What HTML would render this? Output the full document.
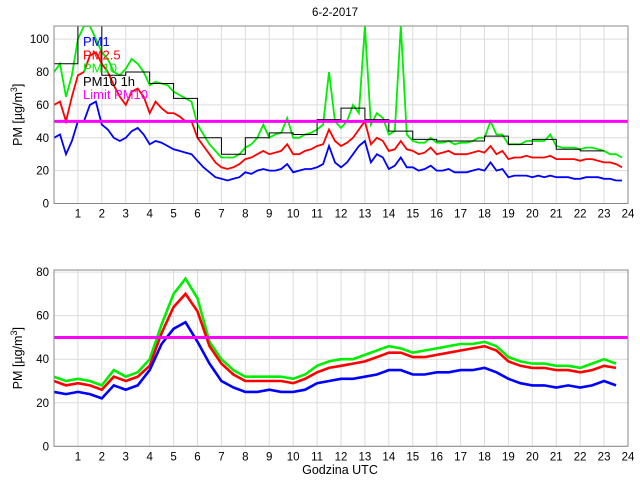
<!DOCTYPE html>
<html><head><meta charset="utf-8"><style>
body{margin:0;background:#fff}
svg{display:block;font-family:"Liberation Sans",sans-serif}
</style></head><body>
<svg id="c" width="640" height="480"></svg>
<script>
const topPM1=[40,42,30,38,50,50,60,62,48,45,40,38,40,44,46,42,36,38,37,35,33,32,31,30,26,22,19,16,15,14,15,16,19,18,20,21,20,20,21,24,19,20,21,21,22,24,35,25,22,25,30,35,38,25,30,28,21,23,28,22,22,20,21,23,20,20,21,19,19,19,20,21,20,25,20,21,16,17,17,17,16,17,16,17,16,16,16,15,15,16,16,16,15,15,14,14];
const topPM25=[60,62,50,65,78,80,90,92,85,80,72,65,60,68,70,65,55,62,58,55,55,53,50,50,40,35,30,25,22,21,22,24,27,28,30,32,30,31,32,36,30,30,32,33,35,36,45,38,35,37,40,45,50,36,40,38,32,33,38,33,32,30,31,34,30,31,32,30,30,30,31,32,31,35,30,32,27,28,28,29,28,28,28,29,27,27,27,27,26,27,27,26,25,25,24,22];
const topPM10=[80,85,65,78,100,108,108,100,92,88,80,78,82,88,85,80,72,74,73,72,68,66,64,62,48,42,36,32,28,28,28,30,34,36,40,48,40,42,43,52,40,40,42,43,45,48,80,50,46,50,60,55,108,48,55,52,42,44,108,42,38,37,37,40,37,37,38,36,37,37,38,40,40,50,42,42,36,36,36,38,38,38,38,42,35,34,34,34,33,34,34,33,32,30,30,28];
const hourly10=[85,120,78,80,73,64,40,30,40,43,42,51,58,51,44,39,38,38,41,36,39,33,32];
const botPM1=[25,24,25,24,22,28,26,28,35,47,54,57,48,38,30,27,25,25,26,25,25,26,29,30,31,31,32,33,35,35,33,33,34,34,35,35,36,34,31,29,28,28,27,28,27,28,30,28];
const botPM25=[30,28,29,28,26,32,30,32,37,52,64,70,62,46,38,33,30,30,30,30,29,31,34,36,37,38,39,41,43,43,41,41,42,43,44,45,46,44,39,37,36,36,35,35,34,35,37,36];
const botPM10=[32,30,31,30,28,35,32,34,40,56,70,77,68,48,40,35,32,32,32,32,31,33,37,39,40,40,42,44,46,45,43,44,45,46,47,47,48,46,41,39,38,38,37,37,36,38,40,38];
const xTicks=[1,2,3,4,5,6,7,8,9,10,11,12,13,14,15,16,17,18,19,20,21,22,23,24];
const limit=50;
const NS='http://www.w3.org/2000/svg';
const svg=document.getElementById('c');
function mk(t,a,p){const e=document.createElementNS(NS,t);for(const k in a)e.setAttribute(k,a[k]);(p||svg).appendChild(e);return e;}
const X0=54,X1=628;
const sx=h=>X0+(X1-X0)*h/24;
function panel(name,yTop,yBot,ymax,yticks,series,stepSeries,sw){
  const g=mk('g',{});
  
  
  const sy=v=>yBot-(yBot-yTop)*v/ymax;
  const cid='clip-'+name;
  const cp=mk('clipPath',{id:cid},g);mk('rect',{x:X0,y:yTop,width:X1-X0,height:yBot-yTop},cp);
  for(const t of xTicks){const l=mk('line',{x1:sx(t),x2:sx(t),y1:yTop,y2:yBot,stroke:'#dcdcdc','stroke-width':1},g);
    
    const tx=mk('text',{x:sx(t),y:yBot+14,'font-size':11.5,'text-anchor':'middle'},g);tx.textContent=t;
    }
  for(const v of yticks){const l=mk('line',{x1:X0,x2:X1,y1:sy(v),y2:sy(v),stroke:'#dcdcdc','stroke-width':1},g);
    
    const tx=mk('text',{x:X0-5,y:sy(v)+4,'font-size':11.5,'text-anchor':'end'},g);tx.textContent=v;
    }
  const plot=mk('g',{'clip-path':'url(#'+cid+')'},g);
  for(const s of series){const step=s.step;
    const d=s.vals.map((v,i)=>(i?'L':'M')+sx(i*step).toFixed(1)+','+sy(v).toFixed(1)).join('');
    const p=mk('path',{d:d,fill:'none',stroke:s.color,'stroke-width':sw},plot);
    }
  if(stepSeries){let d='';stepSeries.forEach((v,i)=>{d+=(i?'L':'M')+sx(i)+','+sy(v)+'L'+sx(i+1)+','+sy(v);});
    const p=mk('path',{d:d,fill:'none',stroke:'#000','stroke-width':1},plot);
    }
  const lim=mk('line',{x1:X0,x2:X1,y1:sy(limit),y2:sy(limit),stroke:'#ff00ff','stroke-width':3},plot);
  
  const fr=mk('rect',{x:X0,y:yTop,width:X1-X0,height:yBot-yTop,fill:'none',stroke:'#888','stroke-width':1},g);
  
  const yl=mk('text',{x:0,y:0,'font-size':12.5,'text-anchor':'middle',transform:`translate(22,${(yTop+yBot)/2}) rotate(-90)`},g);
  yl.innerHTML='PM [µg/m<tspan dy="-5" font-size="9">3</tspan><tspan dy="5">]</tspan>';
  
}
panel('top-panel',26,203.5,108,[0,20,40,60,80,100],[
 {name:'pm10-line',color:'#00ee00',vals:topPM10,step:0.25},
 {name:'pm25-line',color:'#ff0000',vals:topPM25,step:0.25},
 {name:'pm1-line',color:'#0000ff',vals:topPM1,step:0.25}],hourly10,1.8);
panel('bottom-panel',270,446.3,81,[0,20,40,60,80],[
 {name:'pm10-line',color:'#00ee00',vals:botPM10,step:0.5},
 {name:'pm25-line',color:'#ff0000',vals:botPM25,step:0.5},
 {name:'pm1-line',color:'#0000ff',vals:botPM1,step:0.5}],null,2.6);
const t=mk('text',{x:335,y:16,'font-size':11.5,'text-anchor':'middle'});t.textContent='6-2-2017';

const xl=mk('text',{x:340,y:474,'font-size':12.5,'text-anchor':'middle'});xl.textContent='Godzina UTC';

const leg=[['PM1','#0000ff'],['PM2.5','#ff0000'],['PM10','#00ee00'],['PM10 1h','#000'],['Limit PM10','#ff00ff']];
leg.forEach((l,i)=>{const e=mk('text',{x:83,y:46+i*13.3,'font-size':13,fill:l[1]});e.textContent=l[0];
 
 });
</script>
</body></html>
